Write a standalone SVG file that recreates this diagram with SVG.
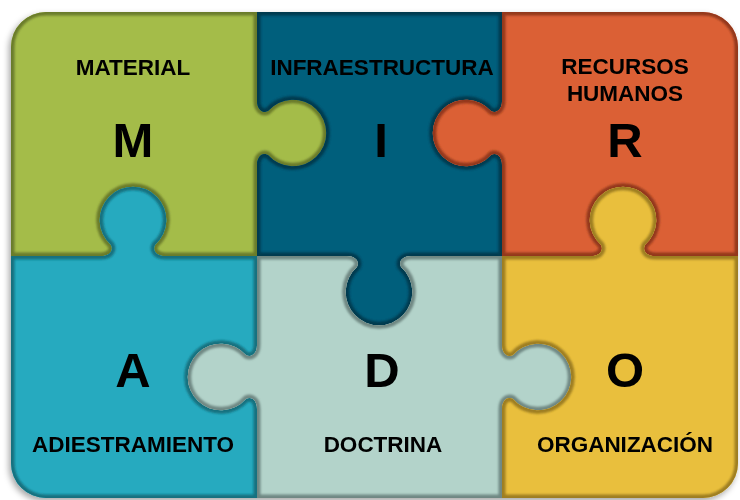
<svg xmlns="http://www.w3.org/2000/svg" xmlns:xlink="http://www.w3.org/1999/xlink" width="740" height="500" viewBox="0 0 740 500">
<style>
.lbl{font-family:"Liberation Sans",Arial,sans-serif;font-weight:bold;font-size:22.5px;fill:#000;text-anchor:middle}
.big{font-family:"Liberation Sans",Arial,sans-serif;font-weight:bold;font-size:49px;fill:#000;text-anchor:middle}
.rim{fill:none;stroke-width:7;filter:url(#soft)}
</style>
<defs>
<filter id="shadow" x="-5%" y="-5%" width="110%" height="115%">
<feDropShadow dx="-2" dy="3" stdDeviation="3" flood-color="#000" flood-opacity="0.35"/>
</filter>
<filter id="soft" x="-5%" y="-5%" width="110%" height="110%">
<feGaussianBlur stdDeviation="1.2"/>
</filter>
<path id="pM" d="M 46 12 L 257 12 L 257 101 C 257 109 262 114 268 111 A 33.3 33.3 0 1 1 268 155 C 262 152 257 157 257 165 L 257 256 L 165 256 C 157 256 152 251 155 245 A 33.3 33.3 0 1 0 111 245 C 114 251 109 256 101 256 L 11 256 L 11 47 A 35 35 0 0 1 46 12 Z"/>
<path id="pI" d="M 257 12 L 502 12 L 502 101 C 502 109 497 114 491 111 A 33.3 33.3 0 1 0 491 155 C 497 152 502 157 502 165 L 502 256 L 411 256 C 403 256 398 261 401 267 A 33.3 33.3 0 1 1 357 267 C 360 261 355 256 347 256 L 257 256 L 257 165 C 257 157 262 152 268 155 A 33.3 33.3 0 1 0 268 111 C 262 114 257 109 257 101 Z"/>
<path id="pR" d="M 502 12 L 703 12 A 35 35 0 0 1 738 47 L 738 256 L 655 256 C 647 256 642 251 645 245 A 33.3 33.3 0 1 0 601 245 C 604 251 599 256 591 256 L 502 256 L 502 165 C 502 157 497 152 491 155 A 33.3 33.3 0 1 1 491 111 C 497 114 502 109 502 101 Z"/>
<path id="pA" d="M 11 256 L 101 256 C 109 256 114 251 111 245 A 33.3 33.3 0 1 1 155 245 C 152 251 157 256 165 256 L 257 256 L 257 345 C 257 353 252 358 246 355 A 33.3 33.3 0 1 0 246 399 C 252 396 257 401 257 409 L 257 498 L 46 498 A 35 35 0 0 1 11 463 Z"/>
<path id="pD" d="M 257 256 L 347 256 C 355 256 360 261 357 267 A 33.3 33.3 0 1 0 401 267 C 398 261 403 256 411 256 L 502 256 L 502 345 C 502 353 507 358 513 355 A 33.3 33.3 0 1 1 513 399 C 507 396 502 401 502 409 L 502 498 L 257 498 L 257 409 C 257 401 252 396 246 399 A 33.3 33.3 0 1 1 246 355 C 252 358 257 353 257 345 Z"/>
<path id="pO" d="M 502 256 L 591 256 C 599 256 604 251 601 245 A 33.3 33.3 0 1 1 645 245 C 642 251 647 256 655 256 L 738 256 L 738 463 A 35 35 0 0 1 703 498 L 502 498 L 502 409 C 502 401 507 396 513 399 A 33.3 33.3 0 1 0 513 355 C 507 358 502 353 502 345 Z"/>
<clipPath id="cM"><use xlink:href="#pM"/></clipPath>
<clipPath id="cI"><use xlink:href="#pI"/></clipPath>
<clipPath id="cR"><use xlink:href="#pR"/></clipPath>
<clipPath id="cA"><use xlink:href="#pA"/></clipPath>
<clipPath id="cD"><use xlink:href="#pD"/></clipPath>
<clipPath id="cO"><use xlink:href="#pO"/></clipPath>
</defs>
<rect width="740" height="500" fill="#fff"/>
<g id="puzzle" filter="url(#shadow)">
<g id="material">
<use xlink:href="#pM" fill="#A4BC4A"/>
<g clip-path="url(#cM)"><use xlink:href="#pM" class="rim" stroke="#6B7B2C"/></g>
</g>
<g id="infraestructura">
<use xlink:href="#pI" fill="#005E7B"/>
<g clip-path="url(#cI)"><use xlink:href="#pI" class="rim" stroke="#003B4F"/></g>
</g>
<g id="recursos">
<use xlink:href="#pR" fill="#DB6136"/>
<g clip-path="url(#cR)"><use xlink:href="#pR" class="rim" stroke="#93391F"/></g>
</g>
<g id="adiestramiento">
<use xlink:href="#pA" fill="#27AABF"/>
<g clip-path="url(#cA)"><use xlink:href="#pA" class="rim" stroke="#16717F"/></g>
</g>
<g id="doctrina">
<use xlink:href="#pD" fill="#B3D3CA"/>
<g clip-path="url(#cD)"><use xlink:href="#pD" class="rim" stroke="#6F8883"/></g>
</g>
<g id="organizacion">
<use xlink:href="#pO" fill="#E9BF3D"/>
<g clip-path="url(#cO)"><use xlink:href="#pO" class="rim" stroke="#9E7E22"/></g>
</g>
</g>
<g id="labels">
<text class="lbl" x="133" y="75">MATERIAL</text>
<text class="big" x="133" y="157">M</text>
<text class="lbl" x="382" y="75">INFRAESTRUCTURA</text>
<text class="big" x="381" y="157">I</text>
<text class="lbl" x="625" y="74">RECURSOS</text>
<text class="lbl" x="625" y="101">HUMANOS</text>
<text class="big" x="625" y="157">R</text>
<text class="big" x="133" y="387">A</text>
<text class="lbl" x="133" y="452">ADIESTRAMIENTO</text>
<text class="big" x="382" y="387">D</text>
<text class="lbl" x="383" y="452">DOCTRINA</text>
<text class="big" x="625" y="387">O</text>
<text class="lbl" x="625" y="452">ORGANIZACIÓN</text>
</g>
</svg>
